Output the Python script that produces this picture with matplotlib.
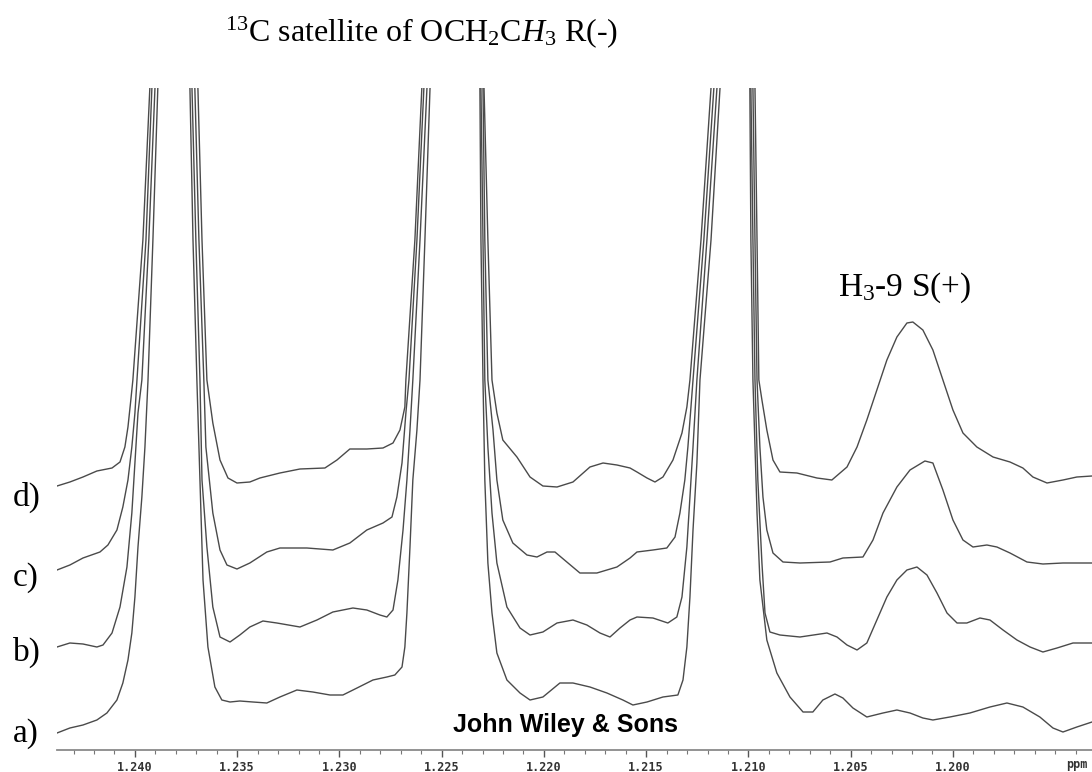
import matplotlib
matplotlib.use("Agg")
import matplotlib.pyplot as plt
from matplotlib.ticker import FixedLocator, MultipleLocator, FormatStrFormatter

plt.rcParams['mathtext.fontset'] = 'custom'
plt.rcParams['mathtext.rm'] = 'Liberation Serif'
plt.rcParams['mathtext.it'] = 'Liberation Serif:italic'

# chemical shift (ppm) and intensity (arbitrary units)
ppm_a = [1.24381, 1.24318, 1.24254, 1.24186, 1.24137, 1.24088, 1.24059, 1.24034, 1.24015, 1.24000,
         1.23985, 1.23966, 1.23951, 1.23936, 1.23912, 1.23888, 1.23809, 1.23731, 1.23716, 1.23697,
         1.23682, 1.23667, 1.23643, 1.23609, 1.23575, 1.23535, 1.23487, 1.23423, 1.23355, 1.23291,
         1.23208, 1.23130, 1.23046, 1.22983, 1.22914, 1.22836, 1.22768, 1.22729, 1.22694, 1.22680,
         1.22670, 1.22655, 1.22641, 1.22621, 1.22606, 1.22582, 1.22557, 1.22445, 1.22313, 1.22308,
         1.22298, 1.22289, 1.22274, 1.22254, 1.22230, 1.22181, 1.22117, 1.22068, 1.22005, 1.21922,
         1.21858, 1.21775, 1.21692, 1.21614, 1.21565, 1.21496, 1.21418, 1.21345, 1.21320, 1.21301,
         1.21286, 1.21271, 1.21252, 1.21237, 1.21183, 1.21139, 1.21066, 1.20993, 1.20988, 1.20978,
         1.20958, 1.20944, 1.20910, 1.20861, 1.20797, 1.20733, 1.20685, 1.20636, 1.20577, 1.20538,
         1.20489, 1.20421, 1.20342, 1.20274, 1.20210, 1.20147, 1.20098, 1.20015, 1.19917, 1.19819,
         1.19736, 1.19658, 1.19575, 1.19511, 1.19462, 1.19394, 1.19320]
int_a = [17, 22, 25, 30, 37, 50, 67, 90, 117, 153,
         203, 253, 303, 370, 510, 662, 1050, 662, 510, 370,
         270, 170, 103, 63, 50, 48, 49, 48, 47, 53,
         60, 58, 55, 55, 62, 70, 73, 75, 83, 103,
         137, 203, 270, 320, 370, 510, 662, 1050, 662, 510,
         370, 270, 187, 137, 97, 70, 57, 50, 53, 67,
         67, 63, 57, 50, 45, 48, 53, 55, 70, 103,
         153, 220, 287, 370, 510, 662, 1050, 662, 510, 370,
         237, 170, 110, 77, 53, 38, 38, 50, 56, 52,
         42, 33, 37, 40, 37, 32, 30, 33, 37, 43,
         47, 43, 33, 22, 18, 23, 28]

ppm_b = [1.24381, 1.24318, 1.24254, 1.24186, 1.24156, 1.24112, 1.24073, 1.24039, 1.24015, 1.24000,
         1.23985, 1.23966, 1.23932, 1.23902, 1.23809, 1.23721, 1.23702, 1.23682, 1.23672, 1.23648,
         1.23619, 1.23584, 1.23535, 1.23487, 1.23438, 1.23374, 1.23306, 1.23193, 1.23110, 1.23032,
         1.22934, 1.22866, 1.22802, 1.22768, 1.22738, 1.22714, 1.22689, 1.22670, 1.22655, 1.22641,
         1.22606, 1.22572, 1.22445, 1.22308, 1.22298, 1.22289, 1.22274, 1.22254, 1.22230, 1.22181,
         1.22117, 1.22068, 1.22005, 1.21936, 1.21858, 1.21790, 1.21726, 1.21677, 1.21628, 1.21579,
         1.21545, 1.21467, 1.21394, 1.21350, 1.21325, 1.21301, 1.21286, 1.21271, 1.21252, 1.21203,
         1.21154, 1.21066, 1.20988, 1.20978, 1.20968, 1.20954, 1.20934, 1.20919, 1.20895, 1.20846,
         1.20748, 1.20616, 1.20567, 1.20518, 1.20469, 1.20421, 1.20372, 1.20323, 1.20274, 1.20225,
         1.20176, 1.20127, 1.20078, 1.20029, 1.19980, 1.19932, 1.19868, 1.19819, 1.19755, 1.19687,
         1.19623, 1.19560, 1.19491, 1.19413, 1.19320]
int_b = [103, 107, 106, 103, 105, 117, 143, 183, 237, 287,
         337, 370, 510, 662, 1050, 662, 510, 370, 270, 203,
         143, 113, 108, 115, 123, 129, 127, 123, 130, 138,
         142, 140, 135, 133, 140, 170, 220, 270, 320, 370,
         510, 662, 1050, 662, 510, 370, 303, 237, 187, 143,
         122, 115, 118, 127, 130, 125, 117, 113, 122, 130,
         133, 132, 127, 133, 153, 203, 253, 303, 370, 510,
         662, 1050, 662, 510, 370, 270, 187, 137, 118, 115,
         113, 117, 113, 105, 100, 107, 130, 153, 170, 180,
         183, 175, 157, 137, 127, 127, 132, 130, 120, 110,
         103, 98, 102, 107, 107]

ppm_c = [1.24381, 1.24318, 1.24254, 1.24171, 1.24132, 1.24088, 1.24059, 1.24034, 1.24015, 1.24000,
         1.23990, 1.23946, 1.23917, 1.23809, 1.23707, 1.23687, 1.23663, 1.23653, 1.23619, 1.23584,
         1.23550, 1.23501, 1.23438, 1.23355, 1.23291, 1.23159, 1.23032, 1.22949, 1.22866, 1.22787,
         1.22743, 1.22719, 1.22694, 1.22675, 1.22660, 1.22621, 1.22587, 1.22445, 1.22298, 1.22289,
         1.22274, 1.22249, 1.22230, 1.22201, 1.22152, 1.22083, 1.22034, 1.21985, 1.21946, 1.21888,
         1.21824, 1.21741, 1.21643, 1.21579, 1.21545, 1.21467, 1.21399, 1.21359, 1.21335, 1.21311,
         1.21296, 1.21281, 1.21271, 1.21218, 1.21169, 1.21066, 1.20978, 1.20968, 1.20958, 1.20944,
         1.20929, 1.20910, 1.20880, 1.20831, 1.20748, 1.20601, 1.20538, 1.20440, 1.20391, 1.20342,
         1.20274, 1.20210, 1.20137, 1.20098, 1.20049, 1.20000, 1.19951, 1.19902, 1.19834, 1.19785,
         1.19721, 1.19638, 1.19560, 1.19462, 1.19320]
int_c = [180, 185, 192, 198, 205, 220, 243, 270, 303, 337,
         370, 510, 662, 1050, 662, 510, 370, 303, 237, 200,
         185, 181, 187, 198, 202, 202, 200, 207, 220, 227,
         233, 253, 287, 337, 370, 510, 662, 1050, 662, 510,
         370, 320, 270, 230, 207, 195, 193, 198, 198, 188,
         177, 177, 183, 192, 198, 200, 202, 213, 237, 270,
         303, 343, 370, 510, 662, 1050, 662, 510, 370, 303,
         253, 220, 197, 188, 187, 188, 192, 193, 210, 237,
         263, 280, 289, 287, 260, 230, 210, 203, 205, 203,
         197, 188, 186, 187, 187]

ppm_d = [1.24381, 1.24318, 1.24254, 1.24186, 1.24112, 1.24073, 1.24049, 1.24034, 1.24020, 1.24010,
         1.23961, 1.23927, 1.23809, 1.23692, 1.23672, 1.23648, 1.23619, 1.23584, 1.23545, 1.23501,
         1.23438, 1.23389, 1.23291, 1.23193, 1.23071, 1.23012, 1.22949, 1.22866, 1.22787, 1.22738,
         1.22704, 1.22680, 1.22675, 1.22631, 1.22597, 1.22445, 1.22293, 1.22274, 1.22254, 1.22230,
         1.22201, 1.22132, 1.22068, 1.22005, 1.21936, 1.21858, 1.21775, 1.21711, 1.21643, 1.21579,
         1.21545, 1.21496, 1.21457, 1.21418, 1.21369, 1.21325, 1.21301, 1.21286, 1.21232, 1.21183,
         1.21066, 1.20968, 1.20958, 1.20949, 1.20934, 1.20910, 1.20880, 1.20846, 1.20763, 1.20665,
         1.20592, 1.20518, 1.20469, 1.20421, 1.20372, 1.20323, 1.20274, 1.20225, 1.20196, 1.20147,
         1.20098, 1.20049, 1.20000, 1.19951, 1.19883, 1.19804, 1.19721, 1.19658, 1.19609, 1.19540,
         1.19462, 1.19394, 1.19320]
int_d = [264, 268, 273, 279, 282, 288, 303, 323, 350, 370,
         510, 662, 1050, 662, 510, 370, 327, 290, 272, 267,
         268, 272, 277, 281, 282, 290, 301, 301, 302, 307,
         320, 343, 370, 510, 662, 1050, 662, 510, 370, 337,
         310, 293, 273, 264, 263, 268, 283, 287, 285, 282,
         278, 272, 268, 273, 290, 317, 343, 370, 510, 662,
         1050, 662, 510, 370, 350, 320, 290, 278, 277, 272,
         270, 283, 303, 330, 360, 390, 413, 427, 428, 420,
         400, 370, 340, 317, 303, 293, 288, 282, 273, 267,
         270, 273, 274]

trace_labels = ['a)', 'b)', 'c)', 'd)']
tick_values = [1.240, 1.235, 1.230, 1.225, 1.220, 1.215, 1.210, 1.205, 1.200]

W, H = 1092, 772
fig = plt.figure(figsize=(W / 100, H / 100), dpi=100)
ax = fig.add_axes([57 / W, 1 - 750 / H, 1 - 57 / W, (750 - 88) / H])

line_kw = dict(color='#4a4a4a', lw=1.0, solid_joinstyle='round')
for xs, ys in [(ppm_a, int_a), (ppm_b, int_b), (ppm_c, int_c), (ppm_d, int_d)]:
    ax.plot(xs, ys, **line_kw)

ax.set_xlim(1.24381, 1.19320)
ax.set_ylim(0, 662)

for s in ['top', 'right', 'left']:
    ax.spines[s].set_visible(False)
ax.spines['bottom'].set_color('#8a8a8a')
ax.spines['bottom'].set_linewidth(1.3)
ax.set_yticks([])

ax.xaxis.set_major_locator(FixedLocator(tick_values))
ax.xaxis.set_minor_locator(MultipleLocator(0.001))
ax.xaxis.set_major_formatter(FormatStrFormatter('%.3f'))
ax.tick_params(axis='x', which='major', length=5, width=1, color='#555555', pad=3,
               labelsize=8.5, labelcolor='#333333')
ax.tick_params(axis='x', which='minor', length=3, width=0.8, color='#777777')
for lab in ax.get_xticklabels():
    lab.set_fontfamily('DejaVu Sans Mono')
    lab.set_fontweight('bold')

fig.text(1066 / W, 1 - 768 / H, 'ppm', fontsize=8.5, fontfamily='DejaVu Sans Mono',
         fontweight='bold', color='#333333', ha='left', va='baseline')

serif = 'Liberation Serif'
fig.text(225 / W, 1 - 41 / H, r'$^{13}$C satellite of OCH$_2$C$H_3$ R(-)',
         fontsize=23, fontfamily=serif, ha='left', va='baseline')
fig.text(838 / W, 1 - 296 / H, r'H$_3$-9 S(+)',
         fontsize=24, fontfamily=serif, ha='left', va='baseline')

for lab, base in zip(trace_labels, [742, 661, 586, 506]):
    fig.text(13 / W, 1 - base / H, lab, fontsize=24, fontfamily=serif,
             ha='left', va='baseline')

fig.text(453 / W, 1 - 732 / H, 'John Wiley & Sons', fontsize=18,
         fontfamily='Liberation Sans', fontweight='bold', ha='left', va='baseline')

fig.savefig('out.png', dpi=100)
